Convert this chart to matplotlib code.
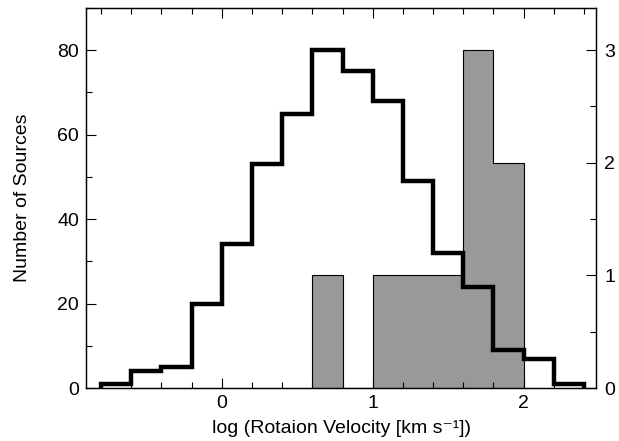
import numpy as np
import matplotlib
matplotlib.use('Agg')
import matplotlib.pyplot as plt
from matplotlib.ticker import MultipleLocator

plt.rcParams['font.family'] = ['Liberation Sans', 'DejaVu Sans']

# histogram bin edges in log(velocity)
edges = np.round(np.arange(-0.8, 2.41, 0.2), 2)
# all sources (left axis)
counts_all = [1, 4, 5, 20, 34, 53, 65, 80, 75, 68, 49, 32, 24, 9, 7, 1]
# sub-sample (right axis), bins from 0.6 to 2.0
edges_sub = [0.6, 0.8, 1.0, 1.2, 1.4, 1.6, 1.8, 2.0]
counts_sub = [1, 0, 1, 1, 1, 3, 2]

fig = plt.figure(figsize=(6.19, 4.41), dpi=100)
ax = fig.add_axes([0.139, 0.120, 0.824, 0.862])
ax2 = ax.twinx()
ax.set_zorder(ax2.get_zorder() + 1)
ax.patch.set_visible(False)

ax2.stairs(counts_sub, edges_sub, fill=True, facecolor='#999999',
           edgecolor='none', baseline=0)
ax2.stairs(counts_sub, edges_sub, fill=False, color='black',
           linewidth=0.8, baseline=0)
ax.stairs(counts_all, edges, color='black', linewidth=3.2, baseline=0)

ax.set_xlim(-0.9, 2.48)
ax.set_ylim(0, 90)
ax2.set_ylim(0, 90 / 80 * 3)

ax.xaxis.set_major_locator(MultipleLocator(1))
ax.xaxis.set_minor_locator(MultipleLocator(0.2))
ax.yaxis.set_major_locator(MultipleLocator(20))
ax.yaxis.set_minor_locator(MultipleLocator(10))
ax2.yaxis.set_major_locator(MultipleLocator(1))
ax2.yaxis.set_minor_locator(MultipleLocator(0.5))

ax.tick_params(which='both', direction='in', top=True, right=False,
               labelsize=14, width=0.8)
ax.tick_params(which='major', length=7, pad=5)
ax.tick_params(which='minor', length=4)
ax2.tick_params(which='both', direction='in', labelsize=14, width=0.8)
ax2.tick_params(which='major', length=7, pad=6)
ax2.tick_params(which='minor', length=4)

for a in (ax, ax2):
    for s in a.spines.values():
        s.set_linewidth(0.9)

ax.set_xlabel('log (Rotaion Velocity [km s⁻¹])', fontsize=14, labelpad=6)
ax.set_ylabel('Number of Sources', fontsize=14, labelpad=19)

fig.savefig('out.png', dpi=100)
